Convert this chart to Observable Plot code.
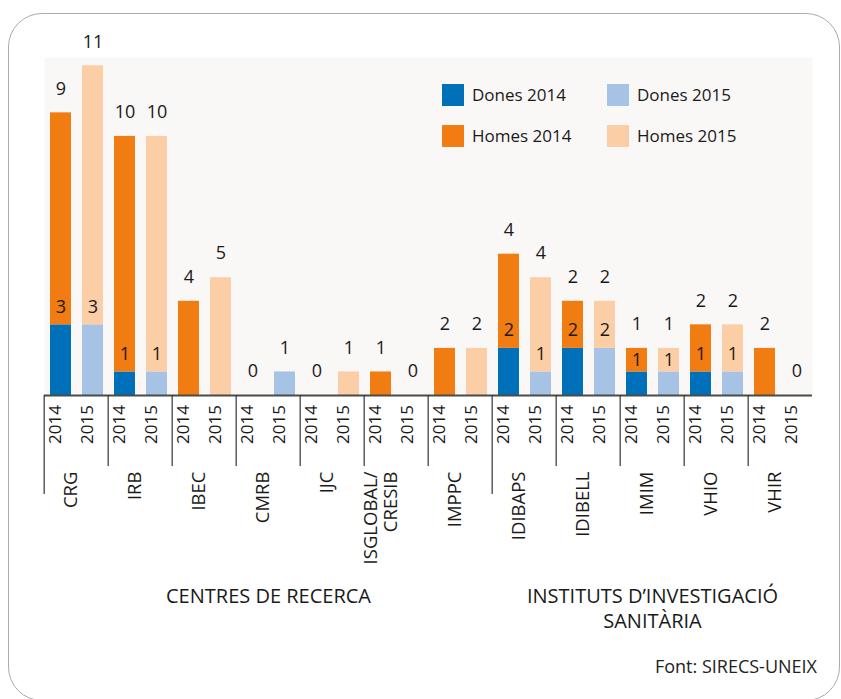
<!DOCTYPE html>
<html>
<head>
<meta charset="utf-8">
<script src="https://cdn.jsdelivr.net/npm/d3@7"></script>
<script src="https://cdn.jsdelivr.net/npm/@observablehq/plot@0.6"></script>
<style>
  html, body { margin: 0; padding: 0; background: #fff; }
  body { font-family: "Open Sans", sans-serif; color: #1a1a1a; }
  #wrap { position: relative; width: 841px; height: 699px; overflow: hidden; }
  #chart { position: absolute; left: 0; top: 0; }
  #border { position: absolute; left: 8px; top: 13px; width: 832px; height: 688px; box-sizing: border-box;
            border: 1.5px solid #ababab; border-radius: 34px; pointer-events: none; }
  .sw { position: absolute; width: 22px; height: 22px; }
  .lt { position: absolute; font-size: 17px; line-height: 22px; color: #1a1a1a; white-space: nowrap; }
  #source { position: absolute; right: 24px; top: 654px; font-size: 18px; line-height: 24px; color: #222; }
</style>
</head>
<body>
<div id="wrap">
  <div id="chart"></div>
  <div id="legend"></div>
  <div id="source"></div>
  <div id="border"></div>
</div>
<script>
// ---- data ----
const groups = ["CRG", "IRB", "IBEC", "CMRB", "IJC", "ISGLOBAL/\nCRESIB", "IMPPC",
                "IDIBAPS", "IDIBELL", "IMIM", "VHIO", "VHIR"];
const years = ["2014", "2015"];
const dones2014 = [3, 1, 0, 0, 0, 0, 0, 2, 2, 1, 1, 0];
const homes2014 = [9, 10, 4, 0, 0, 1, 2, 4, 2, 1, 2, 2];
const dones2015 = [3, 1, 0, 1, 0, 0, 0, 1, 2, 1, 1, 0];
const homes2015 = [11, 10, 5, 0, 1, 0, 2, 4, 2, 1, 2, 0];
const seriesNames = ["Dones 2014", "Dones 2015", "Homes 2014", "Homes 2015"];
const seriesColors = ["#0070b9", "#a6c3e6", "#f07c12", "#fccea5"];
const sectionNames = ["CENTRES DE RECERCA", "INSTITUTS D\u2019INVESTIGACIÓ\nSANITÀRIA"];
const sectionSizes = [7, 5];
const sourceText = "Font: SIRECS-UNEIX";

// ---- derived tables ----
const W = 841, H = 699, mL = 40, mR = 25, mT = 57, mB = 304;
const plotH = H - mT - mB;
const facetW = (W - mL - mR) / groups.length;

const bars = [];   // one per group/year
const rows = [];   // stacked segments
groups.forEach((g, i) => {
  [[years[0], dones2014[i], homes2014[i]], [years[1], dones2015[i], homes2015[i]]].forEach(([yr, d, h]) => {
    bars.push({group: g, year: yr, dones: d, homes: h, total: d + h, top: h > 0 ? h : d});
    rows.push({group: g, year: yr, series: "Dones " + yr, value: d});
    rows.push({group: g, year: yr, series: "Homes " + yr, value: h});
  });
});
const inner = bars.filter(b => b.dones > 0 && b.homes > 0);

// section starts and centres
const sectionStart = new Set();
const sectionRows = [];
let k = 0;
sectionSizes.forEach((n, s) => {
  sectionStart.add(groups[k]);
  sectionRows.push({group: groups[k + Math.floor(n / 2)], name: sectionNames[s]});
  k += n;
});
const groupRows = groups.map(g => ({group: g, start: sectionStart.has(g)}));

const txt = "#1a1a1a";
const chart = Plot.plot({
  width: W, height: H,
  marginLeft: mL, marginRight: mR, marginTop: mT, marginBottom: mB,
  style: {fontFamily: "'Open Sans', sans-serif", background: "transparent", color: txt},
  fx: {domain: groups, padding: 0, axis: null},
  x: {domain: years, paddingInner: 0.35, paddingOuter: 0.175, axis: null},
  y: {domain: [0, 14.35], axis: null},
  color: {domain: seriesNames, range: seriesColors},
  marks: [
    Plot.frame({fill: "#f9f8f6", stroke: "none"}),
    Plot.barY(rows.filter(r => r.value > 0), {fx: "group", x: "year", y: "value", fill: "series"}),
    Plot.ruleY([0], {stroke: "#4a4a4a", strokeWidth: 2}),
    Plot.text(bars, {fx: "group", x: "year", y: "total", text: "top", dy: -24, fontSize: 18, fill: txt}),
    Plot.text(inner, {fx: "group", x: "year", y: d => d.dones + Math.min(d.homes, 1.5) / 2,
                      text: "dones", fontSize: 18, fill: txt}),
    Plot.text(bars, {fx: "group", x: "year", frameAnchor: "bottom", dy: 29, rotate: -90,
                     text: "year", fontSize: 17, fill: txt}),
    Plot.ruleX(groupRows.filter(d => !d.start), {fx: "group", x: null, dx: -facetW / 2, stroke: "#333",
                     strokeWidth: 1.2, insetTop: plotH, insetBottom: -71}),
    Plot.ruleX(groupRows.filter(d => d.start), {fx: "group", x: null, dx: -facetW / 2, stroke: "#333",
                     strokeWidth: 1.2, insetTop: plotH, insetBottom: -99}),
    Plot.text(groupRows, {fx: "group", text: "group", frameAnchor: "bottom", dy: 76, rotate: -90,
                     textAnchor: "end", fontSize: 18.5, lineHeight: 1.08, fill: txt}),
    Plot.text(sectionRows, {fx: "group", text: "name", frameAnchor: "bottom", dy: 190, lineAnchor: "top",
                     lineHeight: 1.25, fontSize: 20, fill: txt})
  ]
});
document.getElementById("chart").appendChild(chart);

// legend (HTML, inside plot area)
const legend = document.getElementById("legend");
const pos = [[442, 84], [607, 84], [442, 125], [607, 125]];
seriesNames.forEach((s, i) => {
  const sw = document.createElement("div");
  sw.className = "sw";
  sw.style.left = pos[i][0] + "px"; sw.style.top = pos[i][1] + "px"; sw.style.background = seriesColors[i];
  legend.appendChild(sw);
  const t = document.createElement("div");
  t.className = "lt";
  t.style.left = (pos[i][0] + 30) + "px"; t.style.top = pos[i][1] + "px";
  t.textContent = s;
  legend.appendChild(t);
});
document.getElementById("source").textContent = sourceText;
</script>
</body>
</html>
